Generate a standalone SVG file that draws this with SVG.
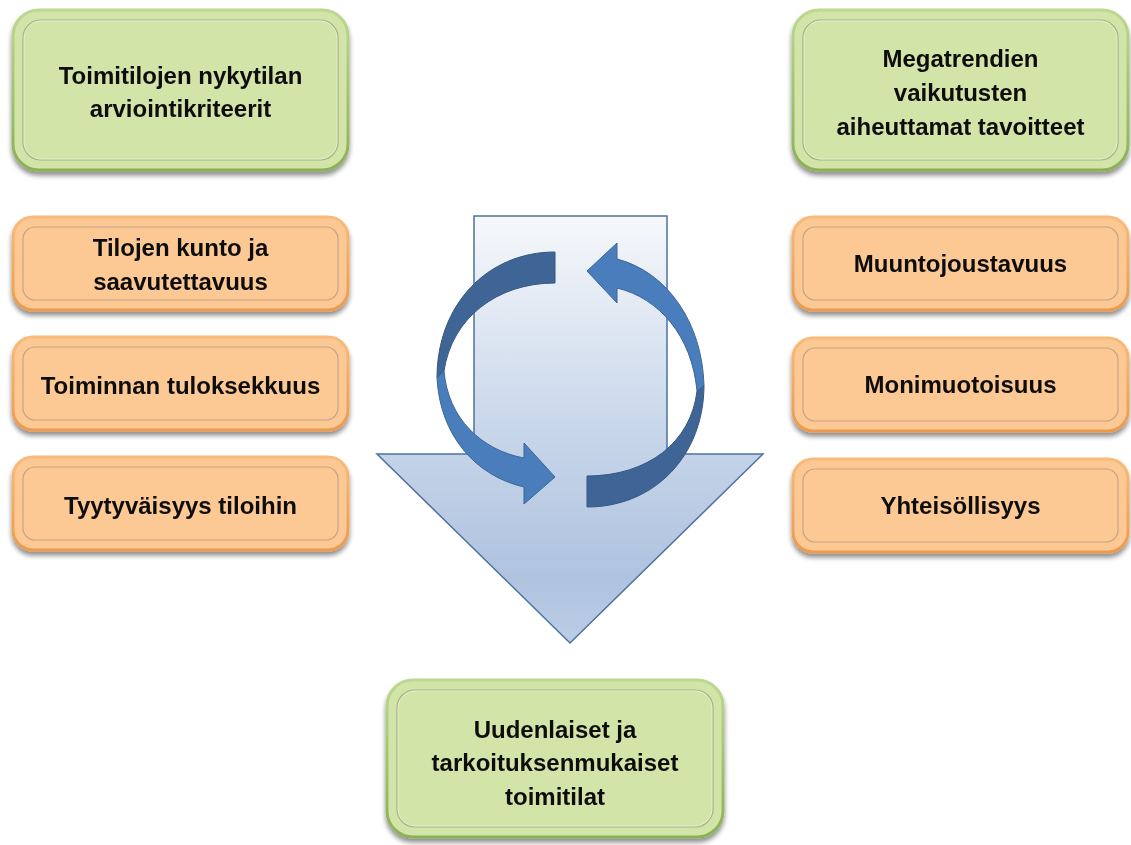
<svg xmlns="http://www.w3.org/2000/svg" width="1131" height="845" viewBox="0 0 1131 845">
  <defs>
    <filter id="shadow" x="-10%" y="-10%" width="120%" height="130%">
      <feGaussianBlur in="SourceAlpha" stdDeviation="2.5"/>
      <feOffset dx="0" dy="4" result="b"/>
      <feComponentTransfer><feFuncA type="linear" slope="0.45"/></feComponentTransfer>
      <feMerge><feMergeNode/><feMergeNode in="SourceGraphic"/></feMerge>
    </filter>
    <filter id="soft" x="-5%" y="-5%" width="110%" height="110%">
      <feGaussianBlur stdDeviation="0.35"/>
    </filter>
    <linearGradient id="greenEdge" x1="0" y1="0" x2="0" y2="1">
      <stop offset="0" stop-color="#bcd892"/>
      <stop offset="1" stop-color="#8bb055"/>
    </linearGradient>
    <linearGradient id="orangeEdge" x1="0" y1="0" x2="0" y2="1">
      <stop offset="0" stop-color="#f9bb7a"/>
      <stop offset="1" stop-color="#ec9a4e"/>
    </linearGradient>
    <linearGradient id="bigArrow" gradientUnits="userSpaceOnUse" x1="0" y1="216" x2="0" y2="643">
      <stop offset="0" stop-color="#f6f8fb"/>
      <stop offset="0.55" stop-color="#c4d3e8"/>
      <stop offset="0.85" stop-color="#afc3df"/>
      <stop offset="1" stop-color="#bccde5"/>
    </linearGradient>
    <style>
      .g-outer { fill: #d2e4a8; stroke: url(#greenEdge); stroke-width: 3; }
      .g-inner { fill: none; stroke: #9fb384; stroke-width: 1.2; }
      .o-outer { fill: #fcc995; stroke: url(#orangeEdge); stroke-width: 3; }
      .o-inner { fill: none; stroke: #c8a283; stroke-width: 1.2; }
      .hl { fill: none; stroke: #ffffff; stroke-opacity: 0.45; stroke-width: 1; }
      text { font-family: "Liberation Sans", Arial, sans-serif; font-weight: bold; font-size: 24px; fill: #0d0d0d; text-anchor: middle; }
      .ring-dark { fill: #3e6596; stroke: #35577f; stroke-width: 1; }
      .ring-light { fill: #4a7dbb; stroke: #3c6597; stroke-width: 1; }
    </style>
  </defs>

  <rect width="1131" height="845" fill="#ffffff"/>

  <!-- central down arrow with circular arrows -->
  <g id="cycle">
    <path d="M474,216 H667 V454 H763 L570,643 L377,454 H474 Z" fill="url(#bigArrow)" stroke="#4c71a0" stroke-width="1.5"/>
    <!-- left circular arrow: back face at top, front face sweeping down to the head -->
    <path class="ring-dark" d="M555,252 C487,252 437,305 437,378 L444,371 C452,318 497,283 555,283 Z"/>
    <path class="ring-light" d="M437,378 C440,436 476,476 524,487 L524,504 L555,477 L524,443 L524,458 C481,450 448,418 444,371 Z"/>
    <!-- right circular arrow: back face at bottom, front face sweeping up to the head -->
    <path class="ring-dark" d="M587,507 C655,507 704,455 704,385 L697,391 C691,442 648,476 587,476 Z"/>
    <path class="ring-light" d="M704,385 C702,322 667,272 617,259 L617,243 L587,271 L617,303 L617,288 C659,298 692,336 697,391 Z"/>
  </g>

  <g id="node-current-state" filter="url(#shadow)">
    <rect class="g-outer" x="13" y="10" width="335" height="160" rx="26"/>
    <rect class="g-inner" x="23" y="20" width="315" height="140" rx="18"/>
    <rect class="hl" x="24" y="21" width="313" height="138" rx="17"/>
  </g>
  <g id="label-current-state" filter="url(#soft)">
    <text x="180.5" y="84">Toimitilojen nykytilan</text>
    <text x="180.5" y="117">arviointikriteerit</text>
  </g>

  <g id="node-megatrends" filter="url(#shadow)">
    <rect class="g-outer" x="793" y="10" width="335" height="160" rx="26"/>
    <rect class="g-inner" x="803" y="20" width="315" height="140" rx="18"/>
    <rect class="hl" x="804" y="21" width="313" height="138" rx="17"/>
  </g>
  <g id="label-megatrends" filter="url(#soft)">
    <text x="960.5" y="67">Megatrendien</text>
    <text x="960.5" y="101">vaikutusten</text>
    <text x="960.5" y="135">aiheuttamat tavoitteet</text>
  </g>

  <g id="node-condition" filter="url(#shadow)">
    <rect class="o-outer" x="13" y="217" width="335" height="93" rx="20"/>
    <rect class="o-inner" x="23" y="227" width="315" height="73" rx="12"/>
  </g>
  <g id="label-condition" filter="url(#soft)">
    <text x="180.5" y="256">Tilojen kunto ja</text>
    <text x="180.5" y="290">saavutettavuus</text>
  </g>

  <g id="node-effectiveness" filter="url(#shadow)">
    <rect class="o-outer" x="13" y="337" width="335" height="93" rx="20"/>
    <rect class="o-inner" x="23" y="347" width="315" height="73" rx="12"/>
  </g>
  <g id="label-effectiveness" filter="url(#soft)">
    <text x="180.5" y="394">Toiminnan tuloksekkuus</text>
  </g>

  <g id="node-satisfaction" filter="url(#shadow)">
    <rect class="o-outer" x="13" y="457" width="335" height="93" rx="20"/>
    <rect class="o-inner" x="23" y="467" width="315" height="73" rx="12"/>
  </g>
  <g id="label-satisfaction" filter="url(#soft)">
    <text x="180.5" y="514">Tyytyväisyys tiloihin</text>
  </g>

  <g id="node-adaptability" filter="url(#shadow)">
    <rect class="o-outer" x="793" y="217" width="335" height="93" rx="20"/>
    <rect class="o-inner" x="803" y="227" width="315" height="73" rx="12"/>
  </g>
  <g id="label-adaptability" filter="url(#soft)">
    <text x="960.5" y="272">Muuntojoustavuus</text>
  </g>

  <g id="node-diversity" filter="url(#shadow)">
    <rect class="o-outer" x="793" y="338" width="335" height="93" rx="20"/>
    <rect class="o-inner" x="803" y="348" width="315" height="73" rx="12"/>
  </g>
  <g id="label-diversity" filter="url(#soft)">
    <text x="960.5" y="393">Monimuotoisuus</text>
  </g>

  <g id="node-community" filter="url(#shadow)">
    <rect class="o-outer" x="793" y="459" width="335" height="93" rx="20"/>
    <rect class="o-inner" x="803" y="469" width="315" height="73" rx="12"/>
  </g>
  <g id="label-community" filter="url(#soft)">
    <text x="960.5" y="514">Yhteisöllisyys</text>
  </g>

  <g id="node-new-premises" filter="url(#shadow)">
    <rect class="g-outer" x="387" y="680" width="336" height="157" rx="26"/>
    <rect class="g-inner" x="397" y="690" width="316" height="137" rx="18"/>
    <rect class="hl" x="398" y="691" width="314" height="135" rx="17"/>
  </g>
  <g id="label-new-premises" filter="url(#soft)">
    <text x="555" y="738">Uudenlaiset ja</text>
    <text x="555" y="771">tarkoituksenmukaiset</text>
    <text x="555" y="805">toimitilat</text>
  </g>

  <g id="connectors"/>
</svg>
